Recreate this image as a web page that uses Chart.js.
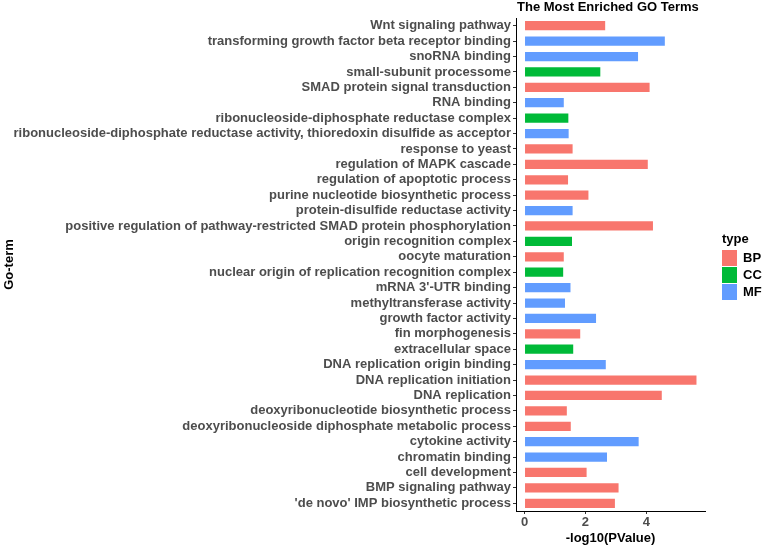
<!DOCTYPE html>
<html>
<head>
<meta charset="utf-8">
<script src="https://cdn.jsdelivr.net/npm/chart.js@4.4.0/dist/chart.umd.min.js"></script>
<style>
  html, body { margin: 0; padding: 0; background: #fff; }
  #wrap { width: 762px; height: 545px; position: relative; }
</style>
</head>
<body>
<div id="wrap"><canvas id="goChart"></canvas></div>
<script>
// GO terms, top to bottom as in the figure
const terms = [
    "Wnt signaling pathway",
    "transforming growth factor beta receptor binding",
    "snoRNA binding",
    "small-subunit processome",
    "SMAD protein signal transduction",
    "RNA binding",
    "ribonucleoside-diphosphate reductase complex",
    "ribonucleoside-diphosphate reductase activity, thioredoxin disulfide as acceptor",
    "response to yeast",
    "regulation of MAPK cascade",
    "regulation of apoptotic process",
    "purine nucleotide biosynthetic process",
    "protein-disulfide reductase activity",
    "positive regulation of pathway-restricted SMAD protein phosphorylation",
    "origin recognition complex",
    "oocyte maturation",
    "nuclear origin of replication recognition complex",
    "mRNA 3'-UTR binding",
    "methyltransferase activity",
    "growth factor activity",
    "fin morphogenesis",
    "extracellular space",
    "DNA replication origin binding",
    "DNA replication initiation",
    "DNA replication",
    "deoxyribonucleotide biosynthetic process",
    "deoxyribonucleoside diphosphate metabolic process",
    "cytokine activity",
    "chromatin binding",
    "cell development",
    "BMP signaling pathway",
    "'de novo' IMP biosynthetic process"
];
const logP = [
    2.65, 4.61, 3.73, 2.49, 4.11, 1.29, 1.44, 1.45, 1.58, 4.05, 1.43,
    2.10, 1.58, 4.22, 1.56, 1.29, 1.27, 1.51, 1.33, 2.35, 1.83, 1.60,
    2.67, 5.65, 4.51, 1.39, 1.52, 3.75, 2.71, 2.04, 3.09, 2.97
];
const termType = [
    "BP", "MF", "MF", "CC", "BP", "MF", "CC", "MF", "BP", "BP", "BP",
    "BP", "MF", "BP", "CC", "BP", "CC", "MF", "MF", "MF", "BP", "CC",
    "MF", "BP", "BP", "BP", "BP", "MF", "MF", "BP", "BP", "BP"
];
const typeNames = ["BP", "CC", "MF"];
const typeColors = ["#F8766D", "#00BA38", "#619CFF"];
const xTicks = [0, 2, 4];

const FONT = "'Liberation Sans', Arial, sans-serif";

// one dataset per type, so bars keep their own colour
const datasets = typeNames.map((t, i) => ({
    label: t,
    data: logP.map((v, k) => termType[k] === t ? v : null),
    backgroundColor: typeColors[i],
    borderWidth: 0,
    barPercentage: 0.6,
    categoryPercentage: 1,
    grouped: false
}));

const titlePlugin = {
    id: "plotTitle",
    afterDraw(chart) {
        const ctx = chart.ctx;
        ctx.save();
        ctx.font = "bold 13px " + FONT;
        ctx.fillStyle = "#000";
        ctx.textBaseline = "alphabetic";
        ctx.fillText("The Most Enriched GO Terms", chart.chartArea.left + 1, 11);
        ctx.restore();
    }
};

const legendPlugin = {
    id: "typeLegend",
    afterDraw(chart) {
        const ctx = chart.ctx;
        const x = chart.chartArea.right + 17;
        ctx.save();
        ctx.font = "bold 13px " + FONT;
        ctx.fillStyle = "#000";
        ctx.fillText("type", x, 243);
        typeNames.forEach((t, i) => {
            const y = 250 + i * 17;
            ctx.fillStyle = typeColors[i];
            ctx.fillRect(x, y, 15, 16);
            ctx.fillStyle = "#000";
            ctx.textBaseline = "middle";
            ctx.fillText(t, x + 21, y + 8.5);
        });
        ctx.restore();
    }
};

new Chart(document.getElementById("goChart"), {
    type: "bar",
    data: { labels: terms, datasets: datasets },
    options: {
        indexAxis: "y",
        responsive: true,
        maintainAspectRatio: false,
        animation: false,
        layout: { padding: { top: 18, right: 57, left: 0, bottom: 0 } },
        plugins: {
            legend: { display: false },
            tooltip: { enabled: false }
        },
        scales: {
            x: {
                type: "linear",
                min: -0.28,
                max: 5.93,
                afterBuildTicks: scale => { scale.ticks = xTicks.map(v => ({ value: v })); },
                grid: { drawOnChartArea: false, drawTicks: true, tickLength: 3, color: "#333" },
                border: { display: true, color: "#000", width: 1 },
                ticks: { color: "#4D4D4D", padding: 2, font: { family: FONT, size: 13, weight: "bold", lineHeight: 1 } },
                title: {
                    display: true,
                    text: "-log10(PValue)",
                    color: "#000",
                    padding: { top: 1, bottom: 0 },
                    font: { family: FONT, size: 13, weight: "bold", lineHeight: 1 }
                }
            },
            y: {
                offset: true,
                afterFit: scale => { scale.width = 516; },
                grid: { offset: false, drawOnChartArea: false, drawTicks: true, tickLength: 3, color: "#333" },
                border: { display: true, color: "#000", width: 1 },
                ticks: { color: "#4D4D4D", padding: 2, autoSkip: false, font: { family: FONT, size: 13, weight: "bold" } },
                title: {
                    display: true,
                    text: "Go-term",
                    color: "#000",
                    padding: { top: 2, bottom: 0 },
                    font: { family: FONT, size: 13, weight: "bold" }
                }
            }
        }
    },
    plugins: [titlePlugin, legendPlugin]
});
</script>
</body>
</html>
